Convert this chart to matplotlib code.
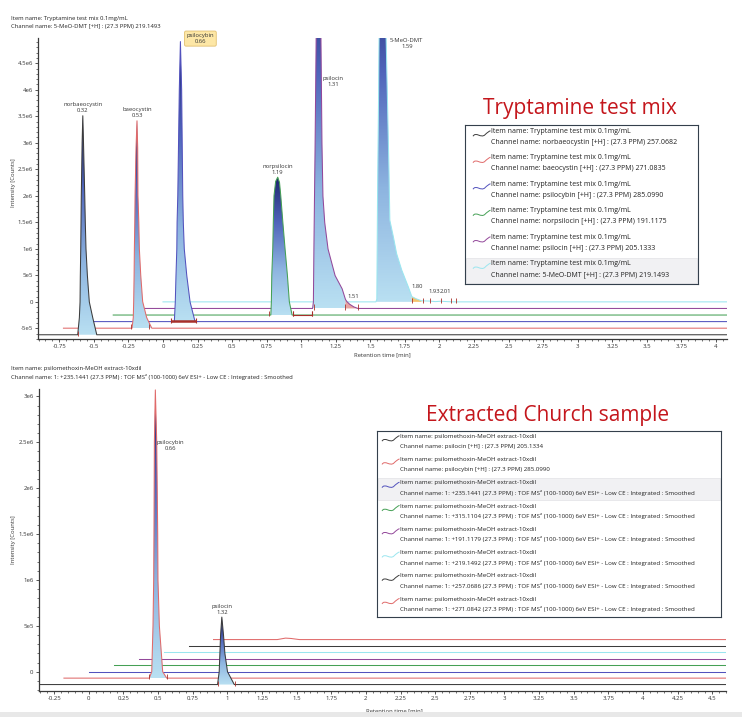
import numpy as np
import matplotlib.pyplot as plt
from matplotlib.colors import LinearSegmentedColormap
from matplotlib.ticker import MultipleLocator, FuncFormatter
from matplotlib.patches import Rectangle, PathPatch
from matplotlib.path import Path

plt.rcParams['font.family'] = ['Open Sans', 'DejaVu Sans']

W, H = 742, 717

# ---------------- top panel: tryptamine test mix ----------------
mix_item = "Tryptamine test mix 0.1mg/mL"
mix_names = ["norbaeocystin", "baeocystin", "psilocybin", "norpsilocin", "psilocin", "5-MeO-DMT"]
mix_rt = [0.32, 0.53, 0.66, 1.19, 1.31, 1.59]
mix_channels = [
    "norbaeocystin [+H] : (27.3 PPM) 257.0682",
    "baeocystin [+H] : (27.3 PPM) 271.0835",
    "psilocybin [+H] : (27.3 PPM) 285.0990",
    "norpsilocin [+H] : (27.3 PPM) 191.1175",
    "psilocin [+H] : (27.3 PPM) 205.1333",
    "5-MeO-DMT [+H] : (27.3 PPM) 219.1493",
]
mix_colors = ['#3c3c3c', '#e06a6a', '#5252bd', '#45a055', '#93489a', '#9ae6ef']
mix_dx = [-0.90, -0.72, -0.54, -0.36, -0.18, 0.0]       # waterfall offsets [min]
mix_dy = [-6.2e5, -4.96e5, -3.72e5, -2.48e5, -1.24e5, 0.0]

# peak profiles: time [min], intensity [x1e6 counts]
norbaeocystin_t = [0.283, 0.295, 0.300, 0.302, 0.305, 0.307, 0.309, 0.315, 0.320, 0.325, 0.334, 0.338, 0.343, 0.353, 0.367, 0.392, 0.421]
norbaeocystin_h = [0, 0.32, 0.62, 1.12, 1.62, 2.12, 2.62, 3.62, 4.13, 3.62, 2.62, 2.12, 1.62, 1.12, 0.62, 0.32, 0]
baeocystin_t = [0.496, 0.505, 0.508, 0.511, 0.513, 0.516, 0.518, 0.525, 0.532, 0.537, 0.539, 0.545, 0.549, 0.559, 0.573, 0.602, 0.639]
baeocystin_h = [0, 0.2, 0.5, 1.0, 1.5, 2.0, 2.5, 3.4, 3.91, 3.4, 2.5, 2.0, 1.5, 1.0, 0.5, 0.2, 0]
psilocybin_t = [0.622, 0.629, 0.634, 0.640, 0.642, 0.647, 0.658, 0.666, 0.675, 0.683, 0.687, 0.694, 0.712, 0.736, 0.772]
psilocybin_h = [0, 0.37, 0.87, 1.37, 1.87, 2.37, 4.37, 5.28, 4.37, 2.37, 1.87, 1.37, 0.87, 0.37, 0]
norpsilocin_t = [1.140, 1.144, 1.147, 1.154, 1.158, 1.163, 1.175, 1.190, 1.203, 1.212, 1.227, 1.243, 1.260, 1.274, 1.294]
norpsilocin_h = [0, 0.25, 0.75, 1.25, 1.75, 2.25, 2.52, 2.60, 2.50, 2.25, 1.75, 1.25, 0.75, 0.25, 0]
psilocin_t = [1.262, 1.268, 1.272, 1.280, 1.288, 1.300, 1.310, 1.318, 1.323, 1.330, 1.337, 1.350, 1.374, 1.425, 1.476, 1.500]
psilocin_h = [0, 0.12, 1.2, 3.0, 5.1, 7.0, 7.6, 7.0, 5.0, 3.12, 2.12, 1.62, 1.12, 0.62, 0.37, 0.17]
psilocin_tail_t = [1.510, 1.530, 1.560, 1.590]
psilocin_tail_h = [0.13, 0.08, 0.03, 0]
meodmt_t = [1.540, 1.547, 1.552, 1.560, 1.572, 1.590, 1.605, 1.614, 1.635, 1.641, 1.667, 1.690, 1.727, 1.775, 1.800]
meodmt_h = [0, 0.05, 2.0, 4.0, 8.0, 10.0, 8.0, 5.0, 2.45, 1.54, 1.22, 0.91, 0.60, 0.28, 0.10]
meodmt_tail_t = [1.830, 1.870, 1.930, 1.970, 2.010, 2.060, 2.120]
meodmt_tail_h = [0.06, 0.02, 0.015, 0.005, 0.012, 0.004, 0]

# integration marks [min] per trace
mix_marks = [[0.283], [0.49, 0.62], [], [1.13, 1.30, 1.44], [1.27, 1.50, 1.59],
             [1.80, 1.88, 1.93, 2.01, 2.08, 2.12]]
mix_segments = [[], [], [(0.60, 0.78, 1.8)], [(1.30, 1.44, 0.8)], [], []]
mix_minor = [(4, 1.51, (6, 5)), (5, 1.80, (5, 10)), (5, 1.93, (4, 10)), (5, 2.01, (5, 10))]
mix_label_off = [(0, 3), (0, 3), (20, 3), (0, 2), (14, -43), (24, -5)]
mix_label_va = ['bottom', 'bottom', 'center', 'bottom', 'center', 'center']

# ---------------- bottom panel: extracted Church sample ----------------
church_item = "psilomethoxin-MeOH extract-10xdil"
church_channels = [
    "psilocin [+H] : (27.3 PPM) 205.1334",
    "psilocybin [+H] : (27.3 PPM) 285.0990",
    "1: +235.1441 (27.3 PPM) : TOF MS\u00b2 (100-1000) 6eV ESI+ - Low CE : Integrated : Smoothed",
    "1: +315.1104 (27.3 PPM) : TOF MS\u00b2 (100-1000) 6eV ESI+ - Low CE : Integrated : Smoothed",
    "1: +191.1179 (27.3 PPM) : TOF MS\u00b2 (100-1000) 6eV ESI+ - Low CE : Integrated : Smoothed",
    "1: +219.1492 (27.3 PPM) : TOF MS\u00b2 (100-1000) 6eV ESI+ - Low CE : Integrated : Smoothed",
    "1: +257.0686 (27.3 PPM) : TOF MS\u00b2 (100-1000) 6eV ESI+ - Low CE : Integrated : Smoothed",
    "1: +271.0842 (27.3 PPM) : TOF MS\u00b2 (100-1000) 6eV ESI+ - Low CE : Integrated : Smoothed",
]
church_colors = ['#3c3c3c', '#e06a6a', '#5252bd', '#45a055', '#93489a', '#9ae6ef', '#3c3c3c', '#e06a6a']
church_dx = [-0.36, -0.18, 0.0, 0.18, 0.36, 0.54, 0.72, 0.90]
church_dy = [-1.4e5, -0.7e5, 0.0, 0.7e5, 1.4e5, 2.1e5, 2.8e5, 3.5e5]

ch_psilocin_t = [1.289, 1.301, 1.306, 1.311, 1.320, 1.332, 1.342, 1.361, 1.410]
ch_psilocin_h = [0, 0.14, 0.34, 0.54, 0.735, 0.54, 0.34, 0.14, 0]
ch_psilocybin_t = [0.616, 0.634, 0.643, 0.648, 0.650, 0.653, 0.660, 0.670, 0.677, 0.679, 0.689, 0.713, 0.742]
ch_psilocybin_h = [0, 0.07, 0.57, 1.07, 1.57, 2.57, 3.14, 2.57, 1.57, 1.07, 0.57, 0.07, 0]
ch_baeocystin_t = [0.46, 0.52, 0.56, 0.62]
ch_baeocystin_h = [0, 0.016, 0.012, 0]

church_marks = [[1.295, 1.416], [0.615, 0.742], [], [], [], [], [], []]
church_names = ["psilocin", "psilocybin"]
church_rt = [1.32, 0.66]
church_label_off = [(0, 2), (15, -56)]
church_label_va = ['bottom', 'center']

peak_cmap = LinearSegmentedColormap.from_list(
    'peak', ['#b9e0f2', '#8db4e0', '#5066bb', '#1d2470'])
grad = np.linspace(0, 1, 256).reshape(-1, 1)


def px_axes(x0, y0, x1, y1):
    return fig.add_axes([x0 / W, 1 - y1 / H, (x1 - x0) / W, (y1 - y0) / H])


def sci(v, pos):
    if abs(v) < 1:
        return '0'
    e = int(np.floor(np.log10(abs(v)) + 1e-9))
    return f'{v / 10 ** e:g}e{e}'


def xfmt(v, pos):
    s = f'{round(v, 2):g}'
    return '0' if s == '-0' else s


def gradient_fill(ax, t, h, dx, dy, ytop, z):
    px = np.array(t) + dx
    py = np.array(h) * 1e6 + dy
    poly = ax.fill_between(px, py, dy, facecolor='none', edgecolor='none')
    # peaks running off the top keep a lighter shade at the clip line
    top = min(py.max(), dy + 1.3 * (ytop - dy))
    im = ax.imshow(grad, cmap=peak_cmap, aspect='auto', origin='lower',
                   extent=[px.min(), px.max(), dy, top], zorder=z,
                   interpolation='bilinear')
    im.set_clip_path(poly.get_paths()[0], transform=ax.transData)


def style_axes(ax, xlim, ylim, xmaj, ymaj):
    ax.set_xlim(*xlim)
    ax.set_ylim(*ylim)
    for s in ['top', 'right']:
        ax.spines[s].set_visible(False)
    for s in ['left', 'bottom']:
        ax.spines[s].set_color('#3a3a3a')
        ax.spines[s].set_linewidth(0.9)
    ax.xaxis.set_major_locator(MultipleLocator(xmaj))
    ax.xaxis.set_minor_locator(MultipleLocator(0.05))
    ax.yaxis.set_major_locator(MultipleLocator(ymaj))
    ax.yaxis.set_minor_locator(MultipleLocator(1e5))
    ax.xaxis.set_major_formatter(FuncFormatter(xfmt))
    ax.yaxis.set_major_formatter(FuncFormatter(sci))
    ax.tick_params(which='major', length=2.4, width=0.6, color='#3a3a3a',
                   labelsize=4.3, labelcolor='#333333', pad=1.5)
    ax.tick_params(which='minor', length=1.3, width=0.5, color='#3a3a3a')


def draw_traces(ax, traces, colors, dxs, dys, ytop, marks, mark_h, segments=None):
    n = len(traces)
    for i in reversed(range(n)):
        main_t, main_h, tail_t, tail_h, tail_fc, tail_end = traces[i]
        t = np.array([0.0] + main_t + tail_t + [6.0])
        h = np.array([0.0] + main_h + tail_h + [0.0]) * 1e6
        z = 3 + (n - i) * 3
        dx, dy = dxs[i], dys[i]
        if main_t:
            gradient_fill(ax, main_t, main_h, dx, dy, ytop, z)
        if tail_fc:
            ft = [main_t[-1]] + [v for v in tail_t if v <= tail_end]
            fh = [main_h[-1]] + [tail_h[k] for k, v in enumerate(tail_t) if v <= tail_end]
            ax.fill_between(np.array(ft) + dx, np.array(fh) * 1e6 + dy, dy,
                            facecolor=tail_fc, edgecolor='none', zorder=z)
        ax.plot(t + dx, h + dy, color=colors[i], lw=0.75, zorder=z + 1)
        if marks[i]:
            mx = np.array(marks[i]) + dx
            ax.vlines(mx, dy - mark_h * 0.3, dy + mark_h, color='#a8302a',
                      lw=0.6, zorder=z + 2)
        if segments and segments[i]:
            for a, b, lw in segments[i]:
                ax.plot([a + dx, b + dx], [dy + mark_h * 0.1] * 2, color='#a8302a',
                        lw=lw, zorder=z + 2, solid_capstyle='butt')
                ax.vlines([a + dx, b + dx], dy - mark_h * 0.3, dy + mark_h,
                          color='#a8302a', lw=0.8, zorder=z + 2)


def peak_labels(ax, traces, dxs, dys, ytop, names, rts, offs, vas, box_idx=None):
    for i, (name, rt) in enumerate(zip(names, rts)):
        t, h = traces[i][0], traces[i][1]
        k = int(np.argmax(h))
        ax_x = t[k] + dxs[i]
        ax_y = min(h[k] * 1e6 + dys[i], ytop)
        bbox = None
        if i == box_idx:
            bbox = dict(boxstyle='round,pad=0.35,rounding_size=0.25',
                        fc='#fde7a6', ec='#e2c070', lw=0.6)
        ax.annotate(f'{name}\n{rt:.2f}', (ax_x, ax_y), xytext=offs[i],
                    textcoords='offset pixels', ha='center', va=vas[i],
                    fontsize=4.2, color='#333333', linespacing=1.25,
                    bbox=bbox, zorder=60, annotation_clip=False)


def draw_legend(box, item, channels, colors, hi, fs, text_x):
    x0, y0, x1, y1 = box
    lax = px_axes(x0, y0, x1, y1)
    w, hh = x1 - x0, y1 - y0
    lax.set_xlim(0, w)
    lax.set_ylim(hh, 0)
    lax.set_xticks([])
    lax.set_yticks([])
    lax.set_zorder(50)
    for s in lax.spines.values():
        s.set_color('#34404c')
        s.set_linewidth(0.8)
    eh = hh / len(channels)
    for i, (ch, c) in enumerate(zip(channels, colors)):
        top = i * eh
        if i == hi:
            lax.add_patch(Rectangle((1.2, top + 1), w - 2.4, eh - 2,
                                    fc='#f1f1f3', ec='#e2e2e6', lw=0.5))
        yc = top + eh * 0.33
        verts = [(text_x - 18, yc + 2.5), (text_x - 15, yc - 2.5), (text_x - 10, yc + 5),
                 (text_x - 6, yc + 1), (text_x - 4, yc - 1), (text_x - 2, yc - 2.5),
                 (text_x - 0.5, yc - 3)]
        codes = [Path.MOVETO] + [Path.CURVE4] * 6
        lax.add_patch(PathPatch(Path(verts, codes), fc='none', ec=c, lw=0.7))
        lax.text(text_x, top + eh * 0.23, f'Item name: {item}', fontsize=fs,
                 va='center', ha='left', color='#222222')
        lax.text(text_x, top + eh * 0.66, f'Channel name: {ch}', fontsize=fs,
                 va='center', ha='left', color='#222222')


fig = plt.figure(figsize=(W / 100, H / 100), dpi=100)
fig.patch.set_facecolor('white')

# ---- top panel ----
ax1 = px_axes(38.3, 38.3, 727, 339)
top1 = 4.97e6
mix_traces = [
    (norbaeocystin_t, norbaeocystin_h, [], [], None, 0),
    (baeocystin_t, baeocystin_h, [], [], None, 0),
    (psilocybin_t, psilocybin_h, [], [], None, 0),
    (norpsilocin_t, norpsilocin_h, [], [], None, 0),
    (psilocin_t, psilocin_h, psilocin_tail_t, psilocin_tail_h, '#e7a3a0', 1.59),
    (meodmt_t, meodmt_h, meodmt_tail_t, meodmt_tail_h, '#f5c36c', 1.87),
]
draw_traces(ax1, mix_traces, mix_colors, mix_dx, mix_dy, top1, mix_marks, 7.5e4, mix_segments)
peak_labels(ax1, mix_traces, mix_dx, mix_dy, top1, mix_names, mix_rt,
            mix_label_off, mix_label_va, box_idx=2)
for i, rt, off in mix_minor:
    tr = mix_traces[i]
    tt = np.array([0.0] + tr[0] + tr[2] + [6.0])
    hh = np.array([0.0] + tr[1] + tr[3] + [0.0]) * 1e6
    ax1.annotate(f'{rt:.2f}', (rt + mix_dx[i], np.interp(rt, tt, hh) + mix_dy[i]),
                 xytext=off, textcoords='offset pixels', ha='center', va='center',
                 fontsize=4.2, color='#333333', zorder=60)
style_axes(ax1, (-0.902, 4.08), (-7.0e5, top1), 0.25, 5e5)

# ---- bottom panel ----
ax2 = px_axes(39, 389, 726, 690.7)
top2 = 3.08e6
church_traces = [
    (ch_psilocin_t, ch_psilocin_h, [], [], None, 0),
    (ch_psilocybin_t, ch_psilocybin_h, [], [], None, 0),
    ([], [], [], [], None, 0),
    ([], [], [], [], None, 0),
    ([], [], [], [], None, 0),
    ([], [], [], [], None, 0),
    ([], [], [], [], None, 0),
    ([], [], ch_baeocystin_t, ch_baeocystin_h, None, 0),
]
draw_traces(ax2, church_traces, church_colors, church_dx, church_dy, top2, church_marks, 4.4e4)
peak_labels(ax2, church_traces, church_dx, church_dy, top2, church_names, church_rt,
            church_label_off, church_label_va)
style_axes(ax2, (-0.36, 4.6), (-2.07e5, top2), 0.25, 5e5)

# ---- texts ----
txt = dict(fontsize=4.2, color='#222222', va='center', ha='left')
fig.text(11 / W, 1 - 18.3 / H, f'Item name: {mix_item}', **txt)
fig.text(11 / W, 1 - 26.8 / H, f'Channel name: {mix_channels[5]}', **txt)
fig.text(11 / W, 1 - 369 / H, f'Item name: {church_item}', **txt)
fig.text(11 / W, 1 - 377.5 / H, f'Channel name: {church_channels[2]}', **txt)

fig.text(14 / W, 1 - 183 / H, 'Intensity [Counts]', rotation=90, fontsize=4.2,
         color='#333333', ha='center', va='center')
fig.text(14 / W, 1 - 540 / H, 'Intensity [Counts]', rotation=90, fontsize=4.2,
         color='#333333', ha='center', va='center')
fig.text(382 / W, 1 - 355 / H, 'Retention time [min]', fontsize=4.2,
         color='#333333', ha='center', va='center')
fig.text(394 / W, 1 - 711 / H, 'Retention time [min]', fontsize=4.2,
         color='#333333', ha='center', va='center')

fig.text(580 / W, 1 - 114 / H, 'Tryptamine test mix', fontsize=15,
         color='#c4161c', ha='center', va='baseline')
fig.text(547.5 / W, 1 - 421 / H, 'Extracted Church sample', fontsize=15,
         color='#c4161c', ha='center', va='baseline')

draw_legend((465, 125, 698, 284), mix_item, mix_channels, mix_colors, 5, 5.0, 26)
draw_legend((377, 431, 721, 617), church_item, church_channels, church_colors, 2, 4.4, 23)

# scroll bar strip at the bottom of the screenshot
fig.patches.append(Rectangle((0, 0), 1, 5 / H, transform=fig.transFigure,
                             fc='#e8e8e8', ec='none', zorder=100))

fig.savefig('out.png', dpi=100, facecolor='white')
